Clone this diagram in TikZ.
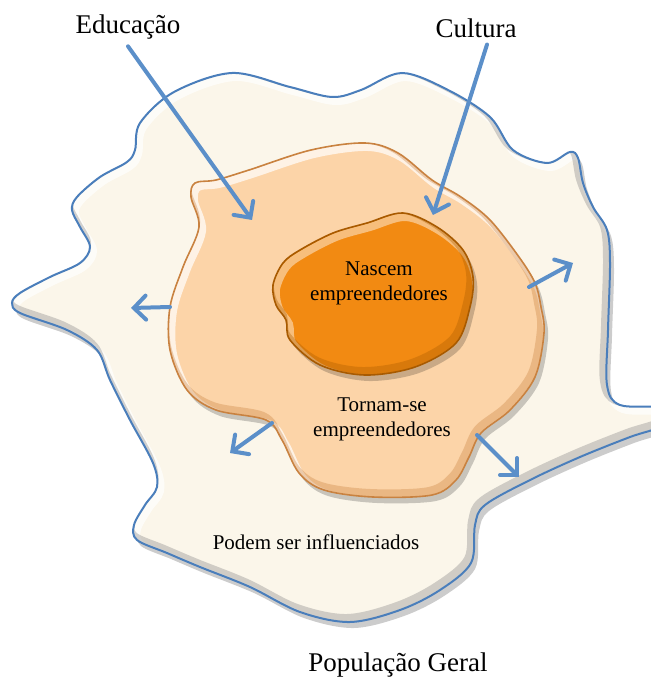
\documentclass[tikz,border=0pt]{standalone}
\usepackage{fontspec}
\setmainfont{Liberation Serif}
\usetikzlibrary{arrows.meta}

\definecolor{creme}{HTML}{FBF6EA}
\definecolor{bordaazul}{HTML}{4A7EBB}
\definecolor{pessego}{HTML}{FCD4A8}
\definecolor{bordapessego}{HTML}{C98240}
\definecolor{laranja}{HTML}{F28A12}
\definecolor{bordalaranja}{HTML}{A85A00}
\definecolor{azulseta}{HTML}{5B8FC9}

% contornos das tres regioes
\newcommand{\regiaogeral}{plot[smooth cycle,tension=0.55] coordinates {(140,123) (174,92) (232,73) (290,87) (332,97) (361,90) (402,73) (448,90) (490,117) (513,150) (547,163) (570,152) (578,158) (583,183) (593,207) (607,230) (610,263) (608,330) (607,385) (620,405) (664,408) (664,425) (630,437) (580,457) (530,480) (485,505) (475,525) (471,563) (440,590) (400,610) (350,622) (300,612) (250,587) (200,567) (167,553) (137,540) (134,525) (145,505) (157,487) (153,463) (130,420) (110,380) (97,350) (67,330) (20,313) (12,303) (20,293) (50,277) (80,263) (90,247) (80,227) (72,210) (77,197) (100,177) (127,162) (135,150)}}
\newcommand{\regiaomeio}{plot[smooth cycle,tension=0.55] coordinates {(195,183) (216,180) (249,170) (311,150) (365,143) (398,153) (432,180) (461,197) (490,220) (519,257) (535,283) (541,307) (544,333) (535,377) (510,410) (481,433) (469,457) (456,480) (432,495) (373,497) (324,490) (299,473) (282,440) (266,420) (216,410) (187,390) (170,350) (170,307) (183,267) (199,227) (191,197)}}
\newcommand{\regiaonucleo}{plot[smooth cycle,tension=0.55] coordinates {(283,263) (300,250) (333,233) (367,223) (403,213) (437,227) (463,250) (473,277) (470,307) (456,343) (415,367) (365,375) (320,365) (290,340) (286,320) (276,305) (273,285)}}

\begin{document}
\begin{tikzpicture}[x=0.5pt,y=-0.5pt,
    setaazul/.style={line width=2pt,azulseta,line cap=round,-{Straight Barb[length=6pt,width=12pt,line cap=round]}},
    sombra/.style={fill=black,opacity=0.2,shift={(4,6)}},
    brilho/.style={draw=white,line width=4pt,opacity=0.7,shift={(3,4)}},
    escuro/.style={line width=4pt,opacity=0.35,shift={(-3,-4)}},
    rotulo/.style={font=\fontsize{13.5}{16}\selectfont},
    texto/.style={font=\fontsize{10.5}{12.5}\selectfont,align=center}]
    \useasboundingbox (0,0) rectangle (651,679);
    % populacao geral
    \fill[sombra] \regiaogeral;
    \fill[creme] \regiaogeral;
    \begin{scope}
        \clip \regiaogeral;
        \draw[brilho] \regiaogeral;
        \draw[escuro,draw=gray] \regiaogeral;
    \end{scope}
    \draw[bordaazul,line width=1pt] \regiaogeral;
    % tornam-se empreendedores
    \fill[sombra] \regiaomeio;
    \fill[pessego] \regiaomeio;
    \begin{scope}
        \clip \regiaomeio;
        \draw[brilho] \regiaomeio;
        \draw[escuro,draw=bordapessego] \regiaomeio;
    \end{scope}
    \draw[bordapessego,line width=0.8pt] \regiaomeio;
    % nascem empreendedores
    \fill[sombra] \regiaonucleo;
    \fill[laranja] \regiaonucleo;
    \begin{scope}
        \clip \regiaonucleo;
        \draw[brilho,opacity=0.45] \regiaonucleo;
        \draw[escuro,draw=bordalaranja] \regiaonucleo;
    \end{scope}
    \draw[bordalaranja,line width=0.8pt] \regiaonucleo;

    \node[rotulo] (edu) at (128,27) {Educação};
    \node[rotulo] (cultura) at (476,28) {Cultura};
    \node[rotulo] (geral) at (398,665) {População Geral};
    \node[texto] (nascem) at (379,283) {Nascem\\empreendedores};
    \node[texto] (tornam) at (382,419) {Tornam-se\\empreendedores};
    \node[texto] (podem) at (316,542) {Podem ser influenciados};

    \coordinate (eduponta) at (252,220);
    \coordinate (culturaponta) at (433,215);
    \coordinate (esqA) at (170,307);  \coordinate (esqB) at (131,308);
    \coordinate (dirA) at (529,287);  \coordinate (dirB) at (573,263);
    \coordinate (baixoesqA) at (272,423); \coordinate (baixoesqB) at (230,453);
    \coordinate (baixodirA) at (477,435); \coordinate (baixodirB) at (519,477);

    \draw[setaazul] (edu.south) -- (eduponta);
    \draw[setaazul] ([xshift=5.5pt]cultura.south) -- (culturaponta);
    \draw[setaazul] (esqA) -- (esqB);
    \draw[setaazul] (dirA) -- (dirB);
    \draw[setaazul] (baixoesqA) -- (baixoesqB);
    \draw[setaazul] (baixodirA) -- (baixodirB);
\end{tikzpicture}
\end{document}
